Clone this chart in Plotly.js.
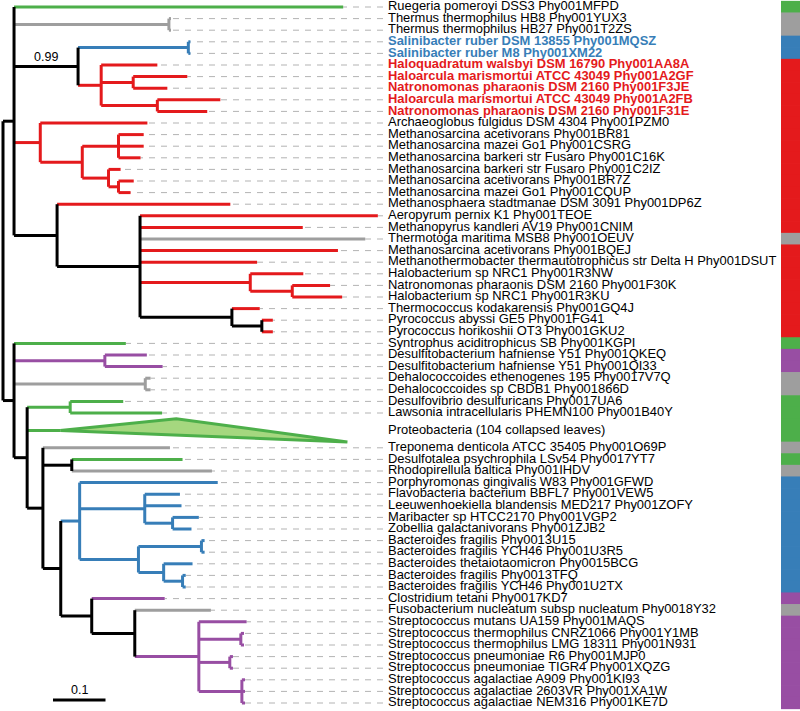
<!DOCTYPE html>
<html><head><meta charset="utf-8">
<script src="https://cdn.plot.ly/plotly-3.0.1.min.js"></script>
<style>html,body{margin:0;padding:0;background:#fff}#chart{width:800px;height:711px}</style>
</head><body><div id="chart"></div>
<script>
// ---------- DATA ----------
const tipLabels = [
 "Ruegeria pomeroyi DSS3 Phy001MFPD","Thermus thermophilus HB8 Phy001YUX3","Thermus thermophilus HB27 Phy001T2ZS",
 "Salinibacter ruber DSM 13855 Phy001MQSZ","Salinibacter ruber M8 Phy001XM22",
 "Haloquadratum walsbyi DSM 16790 Phy001AA8A","Haloarcula marismortui ATCC 43049 Phy001A2GF","Natronomonas pharaonis DSM 2160 Phy001F3JE",
 "Haloarcula marismortui ATCC 43049 Phy001A2FB","Natronomonas pharaonis DSM 2160 Phy001F31E",
 "Archaeoglobus fulgidus DSM 4304 Phy001PZM0","Methanosarcina acetivorans Phy001BR81","Methanosarcina mazei Go1 Phy001CSRG",
 "Methanosarcina barkeri str Fusaro Phy001C16K","Methanosarcina barkeri str Fusaro Phy001C2IZ","Methanosarcina acetivorans Phy001BR7Z",
 "Methanosarcina mazei Go1 Phy001CQUP","Methanosphaera stadtmanae DSM 3091 Phy001DP6Z","Aeropyrum pernix K1 Phy001TEOE",
 "Methanopyrus kandleri AV19 Phy001CNIM","Thermotoga maritima MSB8 Phy001OEUV","Methanosarcina acetivorans Phy001BQEJ",
 "Methanothermobacter thermautotrophicus str Delta H Phy001DSUT","Halobacterium sp NRC1 Phy001R3NW","Natronomonas pharaonis DSM 2160 Phy001F30K",
 "Halobacterium sp NRC1 Phy001R3KU","Thermococcus kodakarensis Phy001GQ4J","Pyrococcus abyssi GE5 Phy001FG41",
 "Pyrococcus horikoshii OT3 Phy001GKU2","Syntrophus aciditrophicus SB Phy001KGPI","Desulfitobacterium hafniense Y51 Phy001QKEQ",
 "Desulfitobacterium hafniense Y51 Phy001QI33","Dehalococcoides ethenogenes 195 Phy0017V7Q","Dehalococcoides sp CBDB1 Phy001866D",
 "Desulfovibrio desulfuricans Phy0017UA6","Lawsonia intracellularis PHEMN100 Phy001B40Y","Proteobacteria (104 collapsed leaves)",
 "Treponema denticola ATCC 35405 Phy001O69P","Desulfotalea psychrophila LSv54 Phy0017YT7","Rhodopirellula baltica Phy001IHDV",
 "Porphyromonas gingivalis W83 Phy001GFWD","Flavobacteria bacterium BBFL7 Phy001VEW5","Leeuwenhoekiella blandensis MED217 Phy001ZOFY",
 "Maribacter sp HTCC2170 Phy001VGP2","Zobellia galactanivorans Phy001ZJB2","Bacteroides fragilis Phy0013U15",
 "Bacteroides fragilis YCH46 Phy001U3R5","Bacteroides thetaiotaomicron Phy0015BCG","Bacteroides fragilis Phy0013TFQ",
 "Bacteroides fragilis YCH46 Phy001U2TX","Clostridium tetani Phy0017KD7","Fusobacterium nucleatum subsp nucleatum Phy0018Y32",
 "Streptococcus mutans UA159 Phy001MAQS","Streptococcus thermophilus CNRZ1066 Phy001Y1MB","Streptococcus thermophilus LMG 18311 Phy001N931",
 "Streptococcus pneumoniae R6 Phy001MJP0","Streptococcus pneumoniae TIGR4 Phy001XQZG","Streptococcus agalactiae A909 Phy001KI93",
 "Streptococcus agalactiae 2603VR Phy001XA1W","Streptococcus agalactiae NEM316 Phy001KE7D"
];
const tipGroups = [
 "green","gray","gray","blue","blue",
 "red","red","red","red","red",
 "red","red","red","red","red","red","red","red","red","red",
 "gray","red","red","red","red","red","red","red","red",
 "green","purple","purple","gray","gray",
 "green","green","green","gray","green","gray",
 "blue","blue","blue","blue","blue","blue","blue","blue","blue","blue",
 "purple","gray","purple","purple","purple","purple","purple","purple","purple","purple"
];
const highlightedTips = [3,4,5,6,7,8,9];
// tree topology with branch lengths (substitutions/site); internal labels = clade group or support
const treeNewick =
 "((t0:0.627,(t1:0.004,t2:0.004)gray:0.295," +
 "((t3:0.004,t4:0.004)blue:0.210,(t5:0.107,(t6:0.103,t7:0.065)red:0.061,(t8:0.120,t9:0.095)red:0.107)red:0.044)0.99:0.122," +
 "(t10:0.204,((t11:0.048,t12:0.048,t13:0.042)red:0.069,(t14:0.023,(t15:0.029,t16:0.023)red:0.019)red:0.050)red:0.080)red:0.050," +
 "(t17:0.330,(t18:0.453,t19:0.310,t20:0.429,t21:0.377,t22:0.223,(t23:0.101,(t24:0.072,t25:0.095)red:0.080)red:0.210," +
 "(t26:0.053,(t27:0.021,t28:0.021):0.057):0.175):0.158):0.082):0.021," +
 "(t29:0.213,(t30:0.080,t31:0.110)purple:0.173,(t32:0.010,t33:0.010)gray:0.250," +
 "((t34:0.101,t35:0.175)green:0.082,t36:0.063," +
 "(t37:0.242,(t38:0.211,t39:0.267):0.055," +
 "((t40:0.263,(t41:0.067,t42:0.070,(t43:0.050,t44:0.036)blue:0.053)blue:0.124," +
 "((t45:0.006,t46:0.006)blue:0.120,(t47:0.055,(t48:0.006,t49:0.006)blue:0.036)blue:0.048)blue:0.112)blue:0.036," +
 "(t50:0.139,(t51:0.145,(t52:0.091,(t53:0.006,t54:0.006)purple:0.080,(t55:0.006,t56:0.006)purple:0.059," +
 "(t57:0.006,t58:0.006,t59:0.006)purple:0.082)purple:0.122):0.082):0.059):0.034):0.030):0.025):0.021);";
const collapsedTip = 36;
const collapsedRowSpan = 2;
const collapsedDepthRange = [0.221, 0.547];
const scaleBarLength = 0.1;

// ---------- STYLE ----------
const groupColors = {green:"#4DAF4A", gray:"#9E9E9E", blue:"#377EB8", red:"#E41A1C", purple:"#984EA3", black:"#000000"};
const PXU = 525;                 // px per unit branch length
const X0 = 3;                    // root pixel
const ROWPX = 11.6, Y0 = 7;
const toX = px => (px - X0) / PXU;
const LABEL_X = toX(388), LEADER_END = toX(383), STRIP_X0 = toX(781);
const FONT = "Liberation Sans, Arial, Helvetica, sans-serif";

// ---------- PARSE ----------
function parseNewick(s){
  let i = 0;
  function node(){
    const n = {children:[]};
    if (s[i] === '('){
      i++;
      while (true){
        n.children.push(node());
        if (s[i] === ','){ i++; continue; }
        if (s[i] === ')'){ i++; break; }
      }
    }
    let name = '';
    while (i < s.length && !',):;'.includes(s[i])) name += s[i++];
    n.name = name;
    n.len = 0;
    if (s[i] === ':'){
      i++; let num = '';
      while (i < s.length && !',);'.includes(s[i])) num += s[i++];
      n.len = parseFloat(num);
    }
    return n;
  }
  return node();
}
const root = parseNewick(treeNewick);

// row centers
const rowCenter = []; let acc = 0;
tipLabels.forEach((_, k) => { const h = k === collapsedTip ? collapsedRowSpan : 1; rowCenter.push(acc + (h - 1) / 2); acc += h; });

function layout(n, px){
  n.x = px + n.len;
  if (n.children.length === 0){
    n.tip = parseInt(n.name.slice(1)); n.y = rowCenter[n.tip]; n.group = tipGroups[n.tip];
  } else {
    n.children.forEach(c => layout(c, n.x));
    const ys = n.children.map(c => c.y);
    n.ymin = Math.min(...ys); n.ymax = Math.max(...ys);
    n.y = (n.ymin + n.ymax) / 2;
    n.group = groupColors[n.name] && n.name !== 'black' ? n.name : 'black';
    if (!isNaN(parseFloat(n.name))) n.support = n.name;
  }
}
layout(root, 0);
root.x = 0;

const segs = {}; Object.keys(groupColors).forEach(k => segs[k] = {x:[], y:[]});
const tips = []; const supports = [];
function collect(n, parent){
  const s = segs[n.group];
  if (parent){ s.x.push(parent.x, n.x, null); s.y.push(n.y, n.y, null); }
  if (n.children.length){
    s.x.push(n.x, n.x, null); s.y.push(n.ymin, n.ymax, null);
    if (n.support) supports.push({x:(parent.x + n.x)/2, y:n.y, t:n.support});
    n.children.forEach(c => collect(c, n));
  } else tips.push(n);
}
collect(root, null);

const traces = [];
// leader dashed lines (drawn from label side toward tip)
const lx = [], ly = [];
tips.filter(t => t.tip !== collapsedTip).forEach(t => { lx.push(LEADER_END, t.x, null); ly.push(t.y, t.y, null); });
traces.push({type:'scatter', mode:'lines', x:lx, y:ly, hoverinfo:'skip',
  line:{color:'#B3B3B3', width:1, dash:'6px,6px'}});

// collapsed triangle
const ct = tips.find(t => t.tip === collapsedTip);
traces.push({type:'scatter', mode:'lines', fill:'toself', fillcolor:'#A5D77F',
  x:[ct.x, ct.x + collapsedDepthRange[0], ct.x + collapsedDepthRange[1], ct.x],
  y:[ct.y, ct.y - collapsedRowSpan/2, ct.y + collapsedRowSpan/2, ct.y],
  line:{color:groupColors.green, width:3}, hoverinfo:'skip'});

['gray','green','blue','purple','red','black'].forEach(g => {
  traces.push({type:'scatter', mode:'lines', x:segs[g].x, y:segs[g].y, hoverinfo:'skip',
    line:{color:groupColors[g], width:3}});
});

// tip labels
const sorted = tips.slice().sort((a,b) => a.tip - b.tip);
traces.push({type:'scatter', mode:'text', x:sorted.map(() => LABEL_X), y:sorted.map(t => t.y),
  text:sorted.map(t => highlightedTips.includes(t.tip) ? '<b>' + tipLabels[t.tip] + '</b>' : tipLabels[t.tip]),
  textposition:'middle right', hoverinfo:'skip',
  textfont:{family:FONT, size:12.95, color:sorted.map(t => highlightedTips.includes(t.tip) ? groupColors[t.group] : '#000000')}});

// colour strip
traces.push({type:'bar', orientation:'h', y:sorted.map(t => t.y), x:sorted.map(() => 0.06), base:STRIP_X0,
  width:sorted.map(t => (t.tip === collapsedTip ? collapsedRowSpan : 1) + 0.06),
  marker:{color:sorted.map(t => groupColors[t.group]), line:{width:0}}, hoverinfo:'skip'});

// scale bar
const sbY = 59.75, sbX = toX(53);
traces.push({type:'scatter', mode:'lines', x:[sbX, sbX + scaleBarLength], y:[sbY, sbY], line:{color:'#000', width:3}, hoverinfo:'skip'});

const annotations = supports.map(s => ({x:s.x, y:s.y, text:s.t, showarrow:false, yshift:9,
  font:{family:FONT, size:12.5, color:'#000'}, xanchor:'center', yanchor:'middle'}));
annotations.push({x:sbX + scaleBarLength/2, y:sbY, text:String(scaleBarLength), showarrow:false, yshift:10,
  font:{family:FONT, size:12.5, color:'#000'}, xanchor:'center', yanchor:'middle'});

Plotly.newPlot('chart', traces, {
  width:800, height:711, margin:{l:0, r:0, t:0, b:0},
  paper_bgcolor:'#fff', plot_bgcolor:'#fff', showlegend:false, barmode:'overlay',
  xaxis:{visible:false, range:[toX(0), toX(800)], fixedrange:true},
  yaxis:{visible:false, range:[(711 - Y0)/ROWPX, -Y0/ROWPX], fixedrange:true},
  annotations:annotations
}, {staticPlot:true});
</script></body></html>
